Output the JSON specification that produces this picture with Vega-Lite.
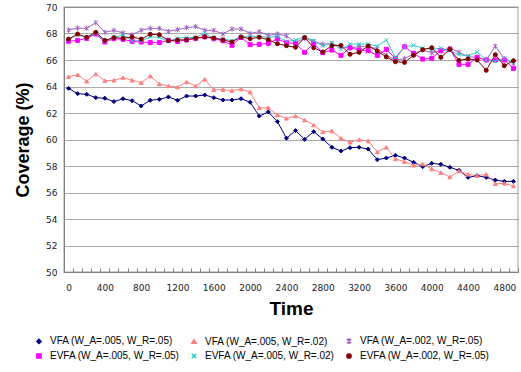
{
  "$schema": "https://vega.github.io/schema/vega-lite/v6.json",
  "width": 454,
  "height": 265,
  "autosize": {"type": "none"},
  "padding": {"left": 64, "top": 7, "right": 3, "bottom": 100},
  "background": "white",
  "config": {
    "view": {"stroke": "#d0d0d0", "strokeWidth": 2},
    "font": "Liberation Sans"
  },
  "data": {
    "values": [
      {"t": 0, "A": 63.86, "B": 64.74, "C": 68.26, "D": 67.41, "E": 67.5, "F": 67.58},
      {"t": 100, "A": 63.46, "B": 64.89, "C": 68.41, "D": 67.48, "E": 67.9, "F": 67.96},
      {"t": 200, "A": 63.41, "B": 64.39, "C": 68.39, "D": 67.63, "E": 67.7, "F": 67.71},
      {"t": 300, "A": 63.16, "B": 64.94, "C": 68.82, "D": 67.96, "E": 68.0, "F": 68.09},
      {"t": 400, "A": 63.11, "B": 64.44, "C": 68.09, "D": 67.36, "E": 67.45, "F": 67.48},
      {"t": 500, "A": 62.86, "B": 64.47, "C": 68.24, "D": 67.61, "E": 67.7, "F": 67.69},
      {"t": 600, "A": 63.08, "B": 64.67, "C": 68.04, "D": 67.56, "E": 67.9, "F": 67.64},
      {"t": 700, "A": 62.93, "B": 64.47, "C": 67.9, "D": 67.41, "E": 67.45, "F": 67.74},
      {"t": 800, "A": 62.53, "B": 64.29, "C": 68.24, "D": 67.36, "E": 67.45, "F": 67.58},
      {"t": 900, "A": 62.96, "B": 64.79, "C": 68.39, "D": 67.31, "E": 67.75, "F": 67.94},
      {"t": 1000, "A": 63.03, "B": 64.19, "C": 68.39, "D": 67.31, "E": 67.7, "F": 67.91},
      {"t": 1100, "A": 63.21, "B": 64.04, "C": 68.16, "D": 67.48, "E": 67.4, "F": 67.46},
      {"t": 1200, "A": 62.96, "B": 63.96, "C": 68.29, "D": 67.4, "E": 67.65, "F": 67.51},
      {"t": 1300, "A": 63.28, "B": 64.34, "C": 68.44, "D": 67.51, "E": 67.7, "F": 67.53},
      {"t": 1400, "A": 63.28, "B": 64.04, "C": 68.52, "D": 67.62, "E": 67.7, "F": 67.66},
      {"t": 1500, "A": 63.36, "B": 64.54, "C": 68.24, "D": 67.75, "E": 68.05, "F": 67.74},
      {"t": 1600, "A": 63.16, "B": 63.76, "C": 68.24, "D": 67.6, "E": 67.6, "F": 67.66},
      {"t": 1700, "A": 62.98, "B": 63.76, "C": 67.96, "D": 67.45, "E": 67.6, "F": 67.51},
      {"t": 1800, "A": 62.98, "B": 63.69, "C": 68.34, "D": 67.11, "E": 67.45, "F": 67.36},
      {"t": 1900, "A": 63.08, "B": 63.81, "C": 68.34, "D": 67.7, "E": 67.75, "F": 67.74},
      {"t": 2000, "A": 62.81, "B": 63.58, "C": 68.0, "D": 67.16, "E": 67.75, "F": 67.61},
      {"t": 2100, "A": 61.77, "B": 62.38, "C": 68.14, "D": 67.18, "E": 67.8, "F": 67.71},
      {"t": 2200, "A": 62.08, "B": 62.4, "C": 67.86, "D": 67.26, "E": 67.7, "F": 67.53},
      {"t": 2300, "A": 61.35, "B": 61.85, "C": 67.96, "D": 67.6, "E": 67.8, "F": 67.23},
      {"t": 2400, "A": 60.1, "B": 61.6, "C": 67.81, "D": 67.3, "E": 67.4, "F": 67.08},
      {"t": 2500, "A": 60.67, "B": 61.77, "C": 67.33, "D": 67.26, "E": 67.5, "F": 66.96},
      {"t": 2600, "A": 60.01, "B": 61.47, "C": 67.63, "D": 66.58, "E": 67.75, "F": 67.69},
      {"t": 2700, "A": 60.59, "B": 61.09, "C": 67.41, "D": 67.26, "E": 67.45, "F": 66.93},
      {"t": 2800, "A": 60.04, "B": 60.57, "C": 67.18, "D": 66.55, "E": 67.05, "F": 66.6},
      {"t": 2900, "A": 59.41, "B": 60.64, "C": 67.26, "D": 66.75, "E": 67.3, "F": 67.08},
      {"t": 3000, "A": 59.13, "B": 60.09, "C": 67.0, "D": 66.35, "E": 66.8, "F": 67.1},
      {"t": 3100, "A": 59.38, "B": 59.79, "C": 66.88, "D": 66.93, "E": 67.2, "F": 66.43},
      {"t": 3200, "A": 59.41, "B": 59.99, "C": 67.03, "D": 66.75, "E": 67.2, "F": 66.58},
      {"t": 3300, "A": 59.28, "B": 59.89, "C": 67.0, "D": 66.7, "E": 67.2, "F": 67.06},
      {"t": 3400, "A": 58.48, "B": 59.06, "C": 66.85, "D": 66.35, "E": 67.05, "F": 66.68},
      {"t": 3500, "A": 58.6, "B": 59.41, "C": 66.37, "D": 66.8, "E": 67.5, "F": 66.23},
      {"t": 3600, "A": 58.81, "B": 58.53, "C": 66.0, "D": 66.1, "E": 66.2, "F": 65.87},
      {"t": 3700, "A": 58.6, "B": 58.33, "C": 66.1, "D": 67.0, "E": 67.0, "F": 65.82},
      {"t": 3800, "A": 58.28, "B": 58.05, "C": 66.45, "D": 66.5, "E": 67.1, "F": 66.35},
      {"t": 3900, "A": 57.95, "B": 58.15, "C": 66.75, "D": 66.07, "E": 66.9, "F": 66.78},
      {"t": 4000, "A": 58.2, "B": 57.77, "C": 66.55, "D": 66.13, "E": 66.8, "F": 66.93},
      {"t": 4100, "A": 58.13, "B": 57.5, "C": 66.7, "D": 66.7, "E": 66.9, "F": 66.2},
      {"t": 4200, "A": 57.9, "B": 57.17, "C": 66.9, "D": 66.8, "E": 66.7, "F": 66.8},
      {"t": 4300, "A": 57.67, "B": 57.62, "C": 66.58, "D": 65.67, "E": 66.4, "F": 65.97},
      {"t": 4400, "A": 57.14, "B": 57.37, "C": 66.25, "D": 65.67, "E": 66.3, "F": 66.08},
      {"t": 4500, "A": 57.27, "B": 57.27, "C": 66.2, "D": 66.2, "E": 66.6, "F": 66.0},
      {"t": 4600, "A": 57.14, "B": 57.37, "C": 66.0, "D": 66.0, "E": 66.0, "F": 65.22},
      {"t": 4700, "A": 56.94, "B": 56.66, "C": 67.05, "D": 66.0, "E": 65.9, "F": 66.4},
      {"t": 4800, "A": 56.84, "B": 56.69, "C": 66.1, "D": 66.0, "E": 66.1, "F": 65.57},
      {"t": 4900, "A": 56.84, "B": 56.49, "C": 65.75, "D": 65.37, "E": 65.85, "F": 65.95}
    ]
  },
  "transform": [{"fold": ["A", "B", "C", "D", "E", "F"], "as": ["s", "v"]}],
  "encoding": {
    "x": {
      "field": "t",
      "type": "quantitative",
      "scale": {"domain": [-50, 4950], "nice": false, "zero": false},
      "axis": {
        "values": [0,100,200,300,400,500,600,700,800,900,1000,1100,1200,1300,1400,1500,1600,1700,1800,1900,2000,2100,2200,2300,2400,2500,2600,2700,2800,2900,3000,3100,3200,3300,3400,3500,3600,3700,3800,3900,4000,4100,4200,4300,4400,4500,4600,4700,4800,4900],
        "format": "d",
        "labelExpr": "datum.value % 400 == 0 ? datum.label : ''",
        "tickOffset": 4.54,
        "labelOffset": -4.54,
        "tickSize": -4,
        "tickColor": "#808080",
        "domainColor": "#808080",
        "labelFlush": false,
        "labelOverlap": false,
        "labelFontSize": 9,
        "labelColor": "#222222",
        "labelFont": "DejaVu Sans",
        "labelPadding": 15,
        "grid": false,
        "title": "Time",
        "titleFont": "Liberation Sans",
        "titleFontSize": 19,
        "titleFontWeight": "bold",
        "titleColor": "#000000",
        "titlePadding": 7
      }
    },
    "y": {
      "field": "v",
      "type": "quantitative",
      "scale": {"domain": [50, 70], "nice": false, "zero": false},
      "axis": {
        "values": [50,52,54,56,58,60,62,64,66,68,70],
        "ticks": false,
        "domainColor": "#808080",
        "labelFontSize": 9,
        "labelColor": "#222222",
        "labelFont": "DejaVu Sans",
        "labelPadding": 7,
        "gridColor": "#555555",
        "gridDash": [1, 1],
        "title": "Coverage (%)",
        "titleFont": "Liberation Sans",
        "titleFontSize": 18,
        "titleFontWeight": "bold",
        "titleColor": "#000000",
        "titlePadding": 13
      }
    },
    "color": {
      "field": "s",
      "type": "nominal",
      "scale": {
        "domain": ["A", "B", "C", "D", "E", "F"],
        "range": ["#000080", "#FF8080", "#A060C0", "#FF00FF", "#33CCCC", "#800000"]
      },
      "legend": {
        "orient": "none",
        "legendX": -30,
        "legendY": 329,
        "columns": 3,
        "direction": "horizontal",
        "title": null,
        "gridAlign": "all",
        "columnPadding": 8,
        "rowPadding": 3,
        "labelFont": "Liberation Sans",
        "labelFontSize": 10,
        "labelColor": "#000000",
        "labelOffset": 6,
        "symbolSize": 18,
        "labelExpr": "{'A':'VFA (W_A=.005, W_R=.05)','B':'VFA (W_A=.005, W_R=.02)','C':'VFA (W_A=.002, W_R=.05)','D':'EVFA (W_A=.005, W_R=.05)','E':'EVFA (W_A=.005, W_R=.02)','F':'EVFA (W_A=.002, W_R=.05)'}[datum.label]"
      }
    }
  },
  "layer": [
    {
      "mark": {"type": "line", "strokeWidth": 1}
    },
    {
      "mark": {"type": "point", "filled": true, "opacity": 1, "size": 16, "strokeWidth": 1},
      "encoding": {
        "shape": {
          "field": "s",
          "type": "nominal",
          "scale": {
            "domain": ["A", "B", "C", "D", "E", "F"],
            "range": ["diamond", "triangle-up", "M-1,-1L1,1M-1,1L1,-1M0,-1.3L0,1.3", "square", "M-1,-1L1,1M-1,1L1,-1", "circle"]
          }
        },
        "stroke": {
          "field": "s",
          "type": "nominal",
          "scale": {
            "domain": ["A", "B", "C", "D", "E", "F"],
            "range": ["#000080", "#FF8080", "#A060C0", "#FF00FF", "#33CCCC", "#800000"]
          },
          "legend": null
        }
      }
    }
  ]
}
